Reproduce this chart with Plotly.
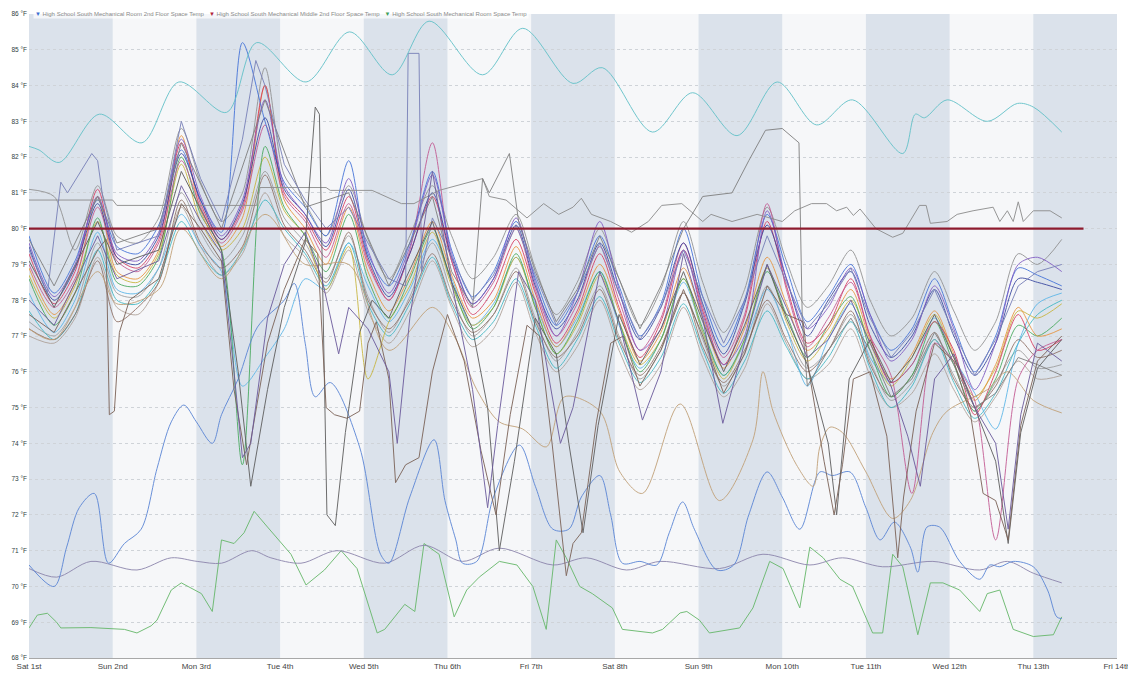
import plotly.graph_objects as go

# ---------------- axis / labels ----------------
DAY_TICKS = list(range(14))
DAY_LABELS = ["Sat 1st", "Sun 2nd", "Mon 3rd", "Tue 4th", "Wed 5th", "Thu 6th", "Fri 7th",
              "Sat 8th", "Sun 9th", "Mon 10th", "Tue 11th", "Wed 12th", "Thu 13th", "Fri 14th"]
SHADED_DAYS = [0, 2, 4, 6, 8, 10, 12]
SETPOINT_F = 80.0
SETPOINT_SPAN = [0.0, 12.6]
LEGEND_NAMES = ["High School South Mechanical Room 2nd Floor Space Temp",
                "High School South Mechanical Middle 2nd Floor Space Temp",
                "High School South Mechanical Room Space Temp"]
LEGEND_COLORS = ["#3d6fd1", "#b2263a", "#3f9f5a"]

# ---------------- common time grid for the clustered zones (days since Sat 1st) ----------------
CT = [0.0, 0.3, 0.55, 0.82, 1.05, 1.3, 1.55, 1.82, 2.05, 2.3, 2.55, 2.82,
      3.05, 3.3, 3.55, 3.82, 4.05, 4.3, 4.55, 4.82, 5.05, 5.3, 5.55, 5.82,
      6.05, 6.3, 6.55, 6.82, 7.05, 7.3, 7.55, 7.82, 8.05, 8.3, 8.55, 8.82,
      9.05, 9.3, 9.55, 9.82, 10.05, 10.3, 10.55, 10.82, 11.05, 11.3, 11.55, 11.82,
      12.05, 12.34]

c_purple = [79.6, 78.1, 79.0, 80.9, 79.3, 79.1, 79.9, 82.5, 80.9, 79.8, 80.8, 83.6,
            81.2, 80.4, 79.6, 81.4, 79.4, 78.2, 79.5, 81.5, 79.3, 77.9, 78.6, 80.3,
            78.5, 77.0, 78.2, 80.2, 78.3, 76.6, 77.2, 79.4, 77.6, 76.2, 77.0, 80.5,
            78.6, 77.2, 77.8, 78.9, 77.6, 76.3, 76.9, 78.4, 77.2, 75.5, 76.8, 79.0,
            79.2, 78.8]
c_blue = [79.8, 78.2, 79.1, 80.8, 79.5, 79.3, 80.1, 82.2, 80.8, 79.9, 85.2, 83.0,
          81.3, 80.6, 79.8, 81.9, 79.3, 78.4, 79.6, 81.6, 79.4, 78.1, 78.8, 80.2,
          78.6, 77.3, 78.2, 79.8, 78.4, 77.0, 77.9, 80.0, 78.1, 76.7, 78.0, 80.4,
          78.9, 77.4, 78.1, 79.0, 77.6, 76.6, 77.2, 78.6, 77.3, 76.0, 77.0, 78.9,
          78.7, 78.4]
c_red = [79.3, 77.9, 78.8, 81.1, 79.2, 78.9, 79.7, 82.4, 80.7, 79.7, 80.6, 84.0,
         81.0, 80.3, 79.4, 80.9, 79.1, 78.0, 79.3, 80.9, 79.1, 77.6, 78.3, 79.7,
         78.2, 76.8, 77.7, 79.3, 77.8, 76.4, 77.4, 79.4, 77.7, 76.2, 77.5, 80.2,
         78.4, 76.8, 77.3, 78.6, 77.0, 75.7, 76.2, 77.4, 76.6, 74.8, 76.0, 77.6,
         76.6, 76.9]
c_orange = [78.9, 77.6, 78.5, 80.9, 78.8, 78.6, 79.4, 82.6, 80.5, 79.5, 80.3, 84.0,
            80.8, 80.0, 79.0, 80.6, 78.8, 77.7, 78.7, 80.2, 78.7, 77.5, 78.0, 79.5,
            78.0, 76.7, 77.6, 79.0, 77.7, 76.3, 77.1, 78.9, 77.5, 76.1, 77.2, 79.2,
            77.9, 76.6, 77.2, 78.3, 76.9, 75.8, 76.5, 77.7, 76.5, 75.2, 76.2, 77.8,
            77.0, 77.2]
c_green = [78.6, 77.3, 78.2, 80.3, 78.5, 78.4, 79.2, 82.0, 80.4, 79.4, 73.4, 82.3,
           80.6, 79.8, 78.8, 80.4, 78.6, 77.5, 78.6, 80.0, 78.5, 77.2, 77.8, 79.3,
           77.8, 76.5, 77.4, 78.8, 77.4, 76.0, 76.9, 78.6, 77.2, 75.9, 76.9, 78.8,
           77.6, 76.4, 77.3, 78.1, 76.6, 75.3, 75.9, 77.4, 76.2, 74.9, 75.8, 77.3,
           77.0, 77.5]
c_grey1 = [81.1, 80.9, 79.4, 81.2, 79.8, 79.6, 80.3, 82.8, 81.3, 80.2, 81.0, 84.5,
           81.5, 80.7, 79.8, 81.2, 79.7, 78.6, 79.8, 81.2, 79.8, 78.6, 79.2, 80.4,
           78.9, 77.6, 78.5, 80.0, 78.6, 77.3, 78.3, 80.2, 78.5, 77.1, 78.3, 80.6,
           79.1, 77.8, 78.4, 79.4, 78.0, 77.0, 77.5, 78.8, 77.7, 76.6, 77.4, 79.3,
           79.0, 79.7]
c_grey2 = [77.4, 77.0, 77.8, 79.6, 78.2, 78.1, 78.9, 81.0, 79.9, 79.1, 79.8, 81.6,
           80.3, 79.6, 78.6, 79.8, 78.1, 77.1, 78.1, 79.6, 78.2, 77.0, 77.6, 78.9,
           77.5, 76.3, 77.1, 78.4, 77.0, 75.8, 76.6, 78.2, 76.9, 75.6, 76.5, 78.4,
           77.2, 76.1, 76.6, 77.6, 76.3, 75.2, 75.7, 76.9, 75.9, 74.9, 75.7, 76.6,
           76.1, 76.2]
c_grey3 = [77.0, 76.8, 77.5, 79.2, 77.8, 77.6, 78.5, 80.6, 79.5, 78.7, 79.3, 81.0,
           79.8, 79.2, 78.2, 79.4, 77.7, 76.8, 77.7, 79.1, 77.8, 76.7, 77.2, 78.5,
           77.1, 76.0, 76.7, 78.0, 76.6, 75.5, 76.2, 77.8, 76.4, 75.3, 76.1, 77.9,
           76.8, 75.8, 76.2, 77.2, 75.9, 75.0, 75.4, 76.5, 75.5, 74.6, 75.3, 76.3,
           75.8, 75.9]
c_lightblue = [78.2, 77.1, 78.0, 79.9, 78.3, 78.2, 78.9, 80.4, 79.5, 78.8, 75.6, 76.4,
               77.2, 78.6, 78.3, 79.6, 78.4, 77.4, 78.3, 79.7, 78.6, 77.3, 77.9, 79.2,
               77.9, 76.7, 77.5, 78.8, 77.3, 76.1, 76.9, 78.5, 77.1, 75.9, 76.8, 78.3,
               77.2, 75.6, 76.9, 77.9, 76.4, 75.7, 76.2, 77.5, 76.4, 75.4, 74.4, 76.8,
               77.9, 78.2]
c_cyan = [77.7, 76.9, 77.6, 79.4, 78.0, 77.9, 78.6, 80.2, 79.3, 78.7, 79.4, 80.8,
          80.0, 79.3, 78.4, 79.6, 77.9, 77.0, 77.9, 79.2, 77.9, 76.9, 77.4, 78.6,
          77.3, 76.1, 76.9, 78.1, 76.8, 75.7, 76.4, 77.9, 76.6, 75.4, 76.3, 77.7,
          76.7, 75.8, 76.4, 77.4, 76.1, 75.0, 75.6, 76.9, 75.7, 74.7, 75.4, 76.8,
          77.6, 78.0]
c_olive = [78.7, 77.5, 78.4, 80.2, 78.7, 78.5, 79.3, 81.8, 80.2, 79.4, 80.0, 82.0,
           80.5, 79.8, 78.3, 79.5, 75.8, 77.4, 78.4, 79.9, 78.4, 77.3, 77.8, 79.2,
           77.8, 76.5, 77.3, 78.7, 77.4, 76.2, 76.9, 78.6, 77.1, 75.8, 76.9, 78.9,
           77.4, 76.3, 77.0, 78.0, 76.8, 75.6, 76.4, 77.6, 76.4, 75.3, 76.1, 77.7,
           77.5, 77.9]
c_pink = [79.0, 77.8, 78.6, 80.6, 79.1, 78.8, 79.6, 81.9, 80.6, 79.6, 80.5, 82.9,
          80.9, 80.2, 79.2, 80.7, 79.0, 78.0, 79.4, 82.4, 79.1, 77.8, 78.5, 80.0,
          78.3, 77.0, 77.9, 79.5, 78.0, 76.6, 77.5, 79.6, 77.8, 76.4, 77.6, 80.7,
          78.3, 76.7, 77.5, 78.5, 77.0, 75.9, 72.6, 76.8, 76.3, 75.2, 71.3, 75.8,
          76.6, 76.9]
c_brown = [77.2, 76.9, 77.6, 79.1, 77.4, 77.8, 78.5, 80.8, 79.6, 78.9, 79.5, 81.5,
           80.1, 79.4, 78.5, 79.9, 78.0, 77.2, 78.0, 79.3, 78.0, 77.1, 77.6, 78.8,
           77.4, 76.4, 77.0, 78.3, 76.9, 75.9, 76.7, 78.2, 76.7, 75.7, 76.6, 78.0,
           76.9, 76.0, 76.6, 77.7, 76.2, 75.3, 75.9, 77.1, 75.8, 75.0, 75.6, 76.9,
           76.4, 76.6]
c_darkblue = [79.5, 78.0, 78.9, 80.7, 79.2, 79.0, 79.8, 82.1, 80.8, 79.7, 80.7, 83.1,
              81.1, 80.4, 79.5, 81.1, 79.2, 78.1, 79.3, 81.0, 79.2, 77.9, 78.6, 80.1,
              78.4, 77.2, 78.0, 79.6, 78.2, 76.9, 77.8, 79.6, 77.9, 76.5, 77.9, 80.1,
              78.6, 77.0, 78.0, 78.8, 77.3, 76.4, 77.0, 78.3, 77.0, 75.9, 76.8, 78.6,
              78.5, 78.3]

# ---------------- individually read zones: (day, °F) pairs ----------------
teal_top = [(0.0, 82.3), (0.12, 82.2), (0.36, 81.85), (0.84, 83.2), (1.35, 82.4), (1.79, 84.1),
            (2.36, 83.25), (2.72, 85.2), (3.31, 84.1), (3.83, 85.5), (4.34, 84.3), (4.78, 85.8),
            (5.42, 84.3), (5.9, 85.6), (6.5, 84.06), (6.85, 84.5), (7.45, 82.7), (7.93, 83.8),
            (8.46, 82.6), (8.94, 84.1), (9.41, 82.9), (9.84, 83.6), (10.44, 82.1), (10.59, 83.2),
            (10.7, 83.1), (10.97, 83.6), (11.45, 83.0), (11.81, 83.5), (12.0, 83.4), (12.34, 82.7)]
green_low = [(0.0, 68.84), (0.10, 69.2), (0.22, 69.25), (0.33, 69.0), (0.38, 68.84), (0.74, 68.85),
             (1.14, 68.8), (1.29, 68.7), (1.46, 68.9), (1.53, 69.06), (1.70, 69.9), (1.82, 70.1),
             (2.06, 69.8), (2.19, 69.3), (2.30, 71.3), (2.45, 71.2), (2.57, 71.5), (2.69, 72.1),
             (2.85, 71.66), (3.13, 70.9), (3.31, 70.04), (3.53, 70.46), (3.73, 71.0), (3.92, 70.5),
             (4.16, 68.7), (4.25, 68.8), (4.49, 69.5), (4.61, 69.3), (4.72, 71.2), (4.90, 70.9),
             (5.08, 69.15), (5.23, 69.9), (5.38, 70.26), (5.62, 70.7), (5.83, 70.6), (6.02, 70.0),
             (6.18, 68.8), (6.30, 71.3), (6.42, 70.8), (6.58, 70.0), (6.73, 69.8), (6.97, 69.4),
             (7.09, 68.8), (7.45, 68.7), (7.57, 68.8), (7.78, 69.26), (7.86, 69.3), (8.01, 69.06),
             (8.13, 68.7), (8.49, 68.84), (8.65, 69.4), (8.85, 70.7), (9.01, 70.5), (9.21, 69.4),
             (9.33, 71.1), (9.49, 70.8), (9.69, 70.2), (9.84, 70.0), (10.08, 68.7), (10.20, 68.7),
             (10.32, 70.9), (10.44, 70.55), (10.62, 68.65), (10.77, 70.1), (10.92, 70.1),
             (11.12, 69.9), (11.36, 69.3), (11.45, 69.8), (11.60, 69.9), (11.76, 68.8),
             (12.00, 68.6), (12.24, 68.65), (12.34, 69.15)]
lavender_flat = [(0.0, 70.5), (0.33, 70.26), (0.74, 70.7), (1.29, 70.46), (1.70, 70.8), (2.01, 70.7),
                 (2.30, 70.65), (2.66, 71.0), (2.89, 70.8), (3.25, 70.65), (3.68, 71.0), (4.25, 70.65),
                 (4.72, 71.15), (5.18, 70.7), (5.62, 71.07), (6.26, 70.6), (6.66, 70.8), (7.14, 70.46),
                 (7.54, 70.7), (8.25, 70.5), (8.77, 70.9), (9.33, 70.6), (9.72, 70.8), (10.20, 70.55),
                 (10.80, 70.7), (11.36, 70.46), (11.69, 70.7), (12.00, 70.37), (12.34, 70.1)]
blue_low = [(0.0, 70.6), (0.3, 70.0), (0.45, 71.1), (0.6, 72.2), (0.78, 72.6), (0.95, 70.65),
            (1.14, 71.2), (1.34, 71.6), (1.53, 73.3), (1.70, 74.6), (1.85, 75.07), (2.0, 74.6),
            (2.19, 74.0), (2.3, 74.8), (2.5, 75.8), (2.73, 77.25), (3.05, 78.0), (3.17, 78.47),
            (3.3, 76.8), (3.42, 75.3), (3.6, 75.7), (3.95, 73.9), (4.2, 70.9), (4.3, 70.65),
            (4.55, 72.5), (4.84, 74.1), (4.97, 72.4), (5.1, 71.3), (5.18, 70.65), (5.35, 70.7),
            (5.55, 72.5), (5.86, 73.95), (6.05, 72.8), (6.26, 71.6), (6.45, 71.6), (6.6, 72.5),
            (6.82, 73.1), (6.95, 72.0), (7.09, 70.65), (7.3, 70.7), (7.5, 70.6), (7.65, 71.5),
            (7.81, 72.36), (7.95, 71.6), (8.22, 70.46), (8.42, 70.6), (8.6, 72.0), (8.82, 73.2),
            (9.0, 72.5), (9.21, 71.6), (9.45, 73.2), (9.6, 73.1), (9.81, 73.2), (10.0, 72.2),
            (10.17, 71.3), (10.34, 71.8), (10.53, 71.1), (10.62, 70.4), (10.73, 71.66),
            (10.88, 71.66), (11.12, 70.7), (11.36, 70.2), (11.48, 70.6), (11.6, 70.55),
            (11.76, 70.7), (12.0, 70.55), (12.17, 69.9), (12.28, 69.15), (12.34, 69.1)]
tan_mid = [(0.0, 77.2), (0.3, 76.9), (0.82, 78.8), (1.05, 77.9), (1.55, 78.3), (1.82, 80.0),
           (2.3, 78.6), (2.82, 80.4), (3.3, 79.0), (3.82, 79.0), (4.3, 76.6), (4.82, 77.8),
           (5.08, 77.0), (5.35, 75.5), (5.62, 74.6), (5.9, 74.4), (6.18, 73.9), (6.4, 75.3),
           (6.82, 74.9), (7.06, 73.2), (7.33, 72.6), (7.78, 75.1), (8.25, 72.4), (8.65, 74.1),
           (8.77, 76.0), (8.89, 74.9), (9.17, 73.4), (9.37, 72.8), (9.45, 73.9), (9.57, 74.45),
           (9.72, 74.3), (10.0, 73.2), (10.32, 71.9), (10.53, 72.4), (10.8, 74.3), (10.97, 74.9),
           (11.45, 75.5), (11.69, 76.0), (12.0, 75.2), (12.34, 74.85)]
grey_noisy = [(0.0, 80.8), (1.0, 80.8), (1.05, 80.65), (2.72, 80.65), (2.76, 81.15), (3.55, 81.15),
              (3.6, 81.07), (4.1, 81.07), (4.45, 80.7), (4.6, 80.7), (4.9, 81.07), (5.42, 81.4),
              (5.5, 80.9), (5.7, 80.8), (5.95, 80.3), (6.15, 80.7), (6.33, 80.4), (6.5, 80.6),
              (6.6, 80.85), (6.72, 80.4), (6.95, 80.2), (7.2, 79.9), (7.4, 80.2), (7.56, 80.65),
              (7.8, 80.7), (8.05, 80.2), (8.15, 80.4), (8.4, 80.2), (8.7, 80.4), (9.0, 80.2),
              (9.15, 80.5), (9.35, 80.7), (9.53, 80.7), (9.65, 80.5), (9.77, 80.6), (9.85, 80.37),
              (9.93, 80.55), (10.12, 80.0), (10.32, 79.76), (10.44, 79.87), (10.64, 80.65),
              (10.72, 80.65), (10.77, 80.15), (10.97, 80.2), (11.09, 80.4), (11.28, 80.5),
              (11.52, 80.6), (11.6, 80.2), (11.69, 80.5), (11.76, 80.2), (11.82, 80.75),
              (11.88, 80.2), (12.0, 80.5), (12.2, 80.5), (12.34, 80.3)]
grey_plateau = [(0.0, 79.7), (0.3, 78.4), (0.82, 80.9), (1.05, 79.6), (1.55, 80.0), (1.82, 82.4),
                (2.3, 80.0), (2.82, 83.6), (3.3, 80.6), (3.82, 81.0), (4.3, 78.4), (4.82, 80.9),
                (5.05, 78.8), (5.3, 77.8), (5.42, 81.4), (5.5, 81.0), (5.74, 82.1), (5.85, 80.2),
                (6.05, 78.8), (6.3, 77.4), (6.55, 78.3), (6.82, 79.8), (7.05, 78.6), (7.3, 77.2),
                (7.55, 78.4), (7.82, 80.0), (8.05, 80.9), (8.4, 81.0), (8.6, 81.9), (8.8, 82.75),
                (9.0, 82.8), (9.2, 82.4), (9.24, 77.4), (9.3, 75.6), (9.55, 76.6), (9.82, 77.5),
                (10.05, 76.6), (10.3, 75.3), (10.55, 75.8), (10.82, 77.1), (11.05, 76.2),
                (11.3, 75.0), (11.55, 75.4), (11.82, 76.4), (12.05, 76.2), (12.34, 75.9)]
spike_grey = [(0.0, 79.4), (0.22, 78.2), (0.38, 81.3), (0.46, 81.0), (0.75, 82.1), (0.82, 81.9),
              (0.88, 80.9), (1.05, 79.4), (1.55, 79.8), (1.82, 83.0), (2.05, 81.4), (2.3, 80.2),
              (2.55, 82.5), (2.71, 84.7), (2.82, 84.0), (3.05, 81.8), (3.3, 80.8), (3.55, 80.0),
              (3.82, 80.6), (4.05, 79.6), (4.3, 78.6), (4.5, 78.4), (4.53, 84.9), (4.66, 84.9),
              (4.69, 78.8), (4.82, 80.3), (5.05, 79.2), (5.3, 78.0), (5.55, 78.7), (5.82, 80.1),
              (6.05, 78.7), (6.3, 77.3), (6.55, 78.2), (6.82, 79.6), (7.05, 78.2), (7.3, 76.9),
              (7.55, 77.8), (7.82, 79.4), (8.05, 78.1), (8.3, 76.8), (8.55, 78.0), (8.82, 79.8),
              (9.05, 78.5), (9.3, 77.2), (9.55, 77.9), (9.82, 78.9), (10.05, 77.5), (10.3, 76.4),
              (10.55, 77.1), (10.82, 78.3), (11.05, 77.1), (11.3, 75.9), (11.55, 76.9),
              (11.82, 78.4), (12.05, 78.8), (12.34, 79.0)]
deep1 = [(0.0, 79.1), (0.3, 77.8), (0.82, 80.2), (1.05, 79.0), (1.55, 79.4), (1.82, 81.6),
         (2.3, 79.4), (2.5, 76.0), (2.65, 72.8), (2.85, 75.5), (3.05, 77.8), (3.3, 79.6),
         (3.42, 83.4), (3.47, 83.2), (3.56, 72.0), (3.66, 71.7), (3.78, 74.3), (3.95, 77.1),
         (4.1, 78.0), (4.3, 77.5), (4.5, 78.6), (4.82, 80.2), (5.05, 78.5), (5.3, 77.2),
         (5.48, 75.0), (5.62, 71.0), (5.8, 73.5), (6.05, 77.5), (6.3, 76.5), (6.45, 74.0),
         (6.62, 71.5), (6.8, 74.5), (7.05, 77.6), (7.3, 76.2), (7.55, 77.2), (7.82, 78.8),
         (8.05, 77.4), (8.3, 76.0), (8.55, 77.3), (8.82, 79.0), (9.05, 77.5), (9.3, 76.2),
         (9.55, 74.0), (9.65, 72.0), (9.8, 75.8), (10.05, 76.9), (10.3, 75.7), (10.55, 76.4),
         (10.82, 77.6), (11.05, 76.4), (11.3, 75.0), (11.55, 73.5), (11.7, 71.2), (11.85, 74.3),
         (12.05, 76.1), (12.34, 76.9)]
deep2 = [(0.0, 77.6), (0.3, 77.1), (0.82, 79.4), (0.92, 79.7), (0.96, 74.8), (1.02, 74.9),
         (1.08, 77.1), (1.2, 78.0), (1.55, 78.6), (1.82, 80.7), (2.05, 80.0), (2.3, 79.1),
         (2.45, 75.5), (2.6, 73.4), (2.85, 76.8), (3.05, 78.3), (3.3, 79.7), (3.45, 79.3),
         (3.55, 75.0), (3.65, 74.8), (3.8, 74.7), (3.95, 74.9), (4.05, 76.8), (4.15, 77.4),
         (4.3, 75.8), (4.38, 72.9), (4.5, 73.4), (4.66, 73.6), (4.82, 76.0), (5.0, 77.6),
         (5.2, 76.3), (5.4, 73.8), (5.58, 72.0), (5.75, 74.8), (5.95, 77.3), (6.1, 77.0),
         (6.25, 74.0), (6.42, 70.3), (6.5, 71.2), (6.6, 71.5), (6.78, 74.6), (6.95, 76.8),
         (7.1, 77.0), (7.3, 75.6), (7.55, 76.6), (7.82, 78.3), (8.05, 77.0), (8.3, 75.4),
         (8.55, 76.5), (8.82, 78.4), (9.05, 77.6), (9.25, 77.4), (9.32, 76.0), (9.5, 73.5),
         (9.62, 72.0), (9.72, 73.4), (9.85, 75.8), (10.05, 76.0), (10.25, 74.2), (10.38, 70.8),
         (10.45, 72.5), (10.6, 74.9), (10.82, 76.8), (11.05, 76.3), (11.25, 74.8), (11.4, 72.6),
         (11.55, 72.4), (11.7, 71.3), (11.85, 74.5), (12.05, 76.3), (12.34, 77.0)]
deep3 = [(0.0, 78.0), (0.3, 77.3), (0.82, 79.8), (1.05, 78.6), (1.55, 79.1), (1.82, 81.2),
         (2.05, 80.2), (2.3, 79.3), (2.45, 76.0), (2.55, 73.6), (2.65, 74.0), (2.85, 77.5),
         (3.05, 79.0), (3.3, 79.9), (3.5, 78.6), (3.7, 76.5), (3.82, 77.8), (4.05, 77.2),
         (4.3, 76.0), (4.4, 74.0), (4.55, 77.5), (4.82, 81.6), (5.05, 78.5), (5.3, 75.5),
         (5.48, 72.2), (5.6, 74.5), (5.85, 78.8), (6.05, 78.0), (6.2, 76.0), (6.35, 74.0),
         (6.5, 75.0), (6.82, 78.8), (7.05, 77.4), (7.33, 74.65), (7.55, 76.0), (7.82, 79.3),
         (8.05, 77.5), (8.29, 74.56), (8.55, 76.8), (8.82, 79.0), (9.05, 77.8), (9.3, 76.4),
         (9.55, 76.9), (9.82, 78.0), (10.05, 76.8), (10.3, 75.6), (10.5, 74.2), (10.65, 72.8),
         (10.82, 75.8), (11.05, 76.5), (11.3, 75.0), (11.55, 74.0), (11.7, 71.6), (11.85, 74.8),
         (12.05, 76.8), (12.34, 76.3)]

CLUSTER = [
    ("Zone 01", "#8f8f8f", c_grey1), ("Zone 02", "#9c9c9c", c_grey2), ("Zone 03", "#ad9f96", c_grey3),
    ("Zone 04", "#3cb6c2", c_cyan), ("Zone 05", "#58b5e8", c_lightblue), ("Zone 06", "#8d6e63", c_brown),
    ("Zone 07", "#c7b43a", c_olive), ("Zone 08", "#43a85a", c_green), ("Zone 09", "#e8923a", c_orange),
    ("Zone 10", "#d6375e", c_red), ("Zone 11", "#c2548f", c_pink), ("Zone 12", "#3f6fd8", c_blue),
    ("Zone 13", "#34439e", c_darkblue), ("Zone 14", "#7e57c2", c_purple),
]
# (name, colour, data, smooth curve?)
SPECIAL = [
    ("Zone 15", "#66b86a", green_low, False), ("Zone 16", "#8d86ad", lavender_flat, True),
    ("Zone 17", "#5b86d6", blue_low, True), ("Zone 18", "#c2a27a", tan_mid, True),
    ("Zone 19", "#8c8c8c", grey_noisy, False), ("Zone 20", "#7f7f7f", grey_plateau, False),
    ("Zone 21", "#7880b8", spike_grey, False), ("Zone 22", "#5e5e5e", deep1, False),
    ("Zone 23", "#7b6257", deep2, False), ("Zone 24", "#6b5a9c", deep3, False),
    ("Zone 25", "#63c2c9", teal_top, True),
]

fig = go.Figure()

for name, color, vals in CLUSTER:
    assert len(vals) == len(CT), name
    fig.add_trace(go.Scatter(x=CT, y=vals, mode="lines", name=name, showlegend=False,
                             line=dict(color=color, width=1.0, shape="spline", smoothing=0.8),
                             opacity=0.85))

for name, color, pairs, smooth in SPECIAL:
    line = dict(color=color, width=1.0)
    if smooth:
        line.update(shape="spline", smoothing=0.9)
    fig.add_trace(go.Scatter(x=[p[0] for p in pairs], y=[p[1] for p in pairs], mode="lines",
                             name=name, showlegend=False, line=line, opacity=0.9))

fig.add_trace(go.Scatter(x=SETPOINT_SPAN, y=[SETPOINT_F, SETPOINT_F], mode="lines",
                         name="Setpoint", showlegend=False,
                         line=dict(color="#8e1b2e", width=2.2)))

shapes = []
for d in SHADED_DAYS:
    shapes.append(dict(type="rect", xref="x", yref="y domain", x0=d, x1=d + 1, y0=0, y1=1,
                       fillcolor="#dbe2eb", line=dict(width=0), layer="below"))

legend_html = "&nbsp;&nbsp;&nbsp;".join(
    f"<span style='color:{c}'>▼</span> {n}" for n, c in zip(LEGEND_NAMES, LEGEND_COLORS))

# the page body adds an 8 px offset, so the figure is sized to fit the window after it
fig.update_layout(
    width=1128, height=669,
    margin=dict(l=21, r=19, t=6, b=19),
    paper_bgcolor="white", plot_bgcolor="#f6f7f9",
    shapes=shapes,
    font=dict(family="Liberation Sans, Arial, sans-serif", color="#333"),
    annotations=[dict(text=legend_html, xref="paper", yref="paper", x=0.004, y=1.0,
                      xanchor="left", yanchor="middle", showarrow=False,
                      bgcolor="rgba(255,255,255,0.7)",
                      font=dict(size=6, color="#8a8a8a"))],
    xaxis=dict(range=[0, 13], tickvals=DAY_TICKS, ticktext=DAY_LABELS, showgrid=False,
               zeroline=False, showline=True, linecolor="#a8a8a8", linewidth=1,
               tickfont=dict(size=8, color="#444"), ticks="", automargin=False),
    yaxis=dict(range=[68, 86], dtick=1, ticksuffix=" °F", showgrid=True,
               gridcolor="#cfd3d8", griddash="dot", gridwidth=1, zeroline=False,
               tickfont=dict(size=6.5, color="#2f3f44"), ticks="", automargin=False,
               ticklabelstandoff=1),
)

fig.write_html("out.html")
